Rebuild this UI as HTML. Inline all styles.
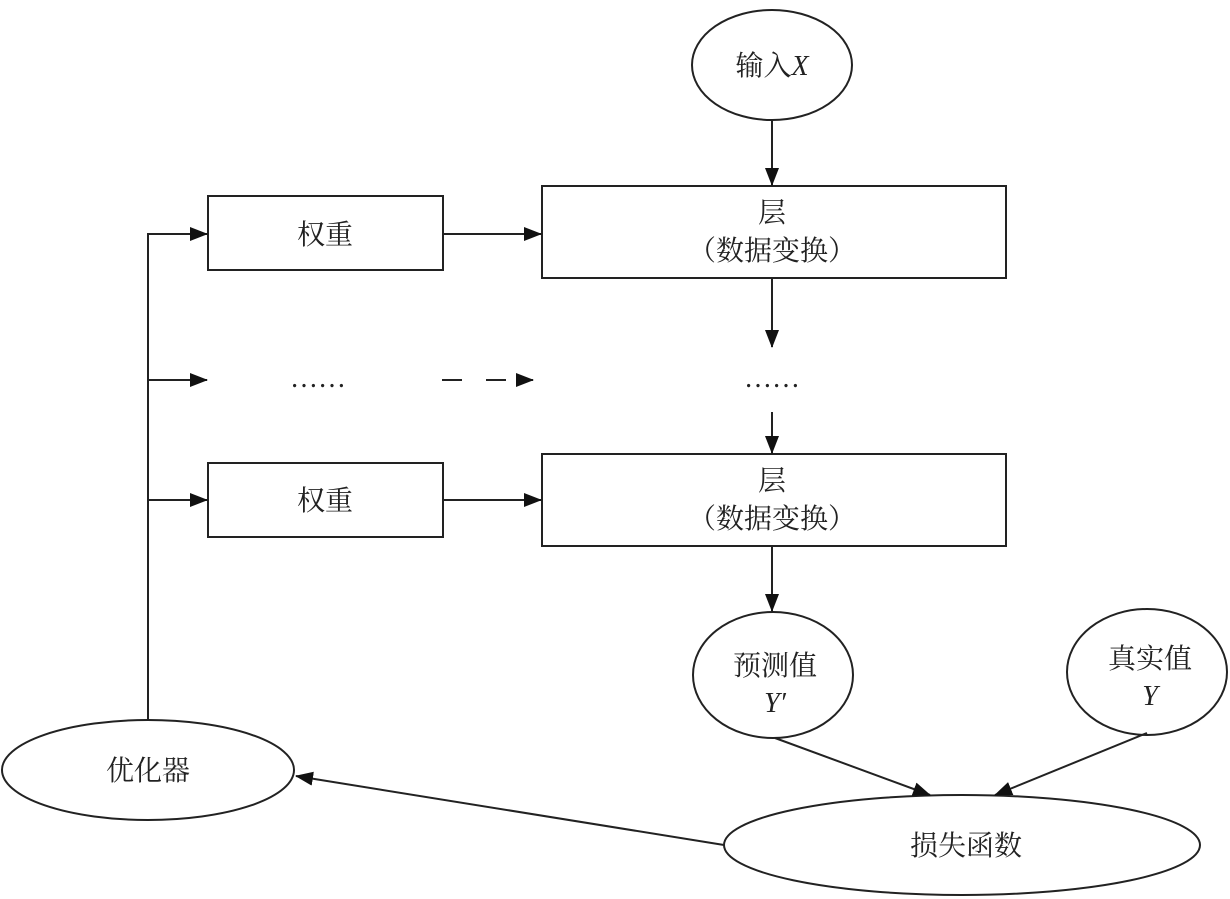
<!DOCTYPE html>
<html><head><meta charset="utf-8"><style>
html,body{margin:0;padding:0;background:#fff;}
svg{display:block;}
text{font-family:"Liberation Serif","Noto Serif CJK SC","Noto Sans CJK SC",serif;fill:#222;}
</style></head><body>
<svg width="1230" height="899" viewBox="0 0 1230 899" xmlns="http://www.w3.org/2000/svg">
<defs>
<marker id="a" markerWidth="10" markerHeight="10" refX="9" refY="5" orient="auto" markerUnits="userSpaceOnUse" viewBox="0 0 10 10">
<path d="M0,0 L10,5 L0,10 z" fill="#111"/></marker>
<marker id="b" markerWidth="18" markerHeight="18" refX="17" refY="7" orient="auto" markerUnits="userSpaceOnUse" viewBox="0 0 18 14">
<path d="M0,0 L18,7 L0,14 z" fill="#111"/></marker>
</defs>
<g stroke="#222" stroke-width="2" fill="none">
<ellipse cx="772" cy="65" rx="80" ry="55"/>
<rect x="542" y="186" width="464" height="92"/>
<rect x="542" y="454" width="464" height="92"/>
<rect x="208" y="196" width="235" height="74"/>
<rect x="208" y="463" width="235" height="74"/>
<ellipse cx="773" cy="675" rx="80" ry="63"/>
<ellipse cx="1147" cy="672" rx="80" ry="63"/>
<ellipse cx="962" cy="845" rx="238" ry="50"/>
<ellipse cx="148" cy="770" rx="146" ry="50"/>
<line x1="772" y1="120" x2="772" y2="185" marker-end="url(#b)"/>
<line x1="772" y1="278" x2="772" y2="347" marker-end="url(#b)"/>
<line x1="772" y1="412" x2="772" y2="453" marker-end="url(#b)"/>
<line x1="772" y1="546" x2="772" y2="611" marker-end="url(#b)"/>
<line x1="443" y1="234" x2="541" y2="234" marker-end="url(#b)"/>
<line x1="443" y1="500" x2="541" y2="500" marker-end="url(#b)"/>
<line x1="442" y1="380" x2="533" y2="380" stroke-dasharray="20,24" marker-end="url(#b)"/>
<polyline points="148,720 148,234 207,234" marker-end="url(#b)"/>
<line x1="148" y1="380" x2="207" y2="380" marker-end="url(#b)"/>
<line x1="148" y1="500" x2="207" y2="500" marker-end="url(#b)"/>
<line x1="775" y1="738" x2="930" y2="795" marker-end="url(#b)"/>
<line x1="1147" y1="733" x2="995" y2="795" marker-end="url(#b)"/>
<line x1="724" y1="845" x2="296" y2="776" marker-end="url(#b)"/>
</g>
<g font-size="28" text-anchor="middle">
<text x="772" y="75">输入<tspan font-style="italic">X</tspan></text>
<text x="772" y="222">层</text>
<text x="772" y="260">（数据变换）</text>
<text x="772" y="490">层</text>
<text x="772" y="528">（数据变换）</text>
<text x="325" y="244">权重</text>
<text x="325" y="510">权重</text>
<text x="318" y="387">……</text>
<text x="772" y="387">……</text>
<text x="775" y="675">预测值</text>
<text x="775" y="712" font-style="italic">Y′</text>
<text x="1150" y="668">真实值</text>
<text x="1150" y="705" font-style="italic">Y</text>
<text x="966" y="855">损失函数</text>
<text x="148" y="780">优化器</text>
</g>
</svg>
</body></html>
